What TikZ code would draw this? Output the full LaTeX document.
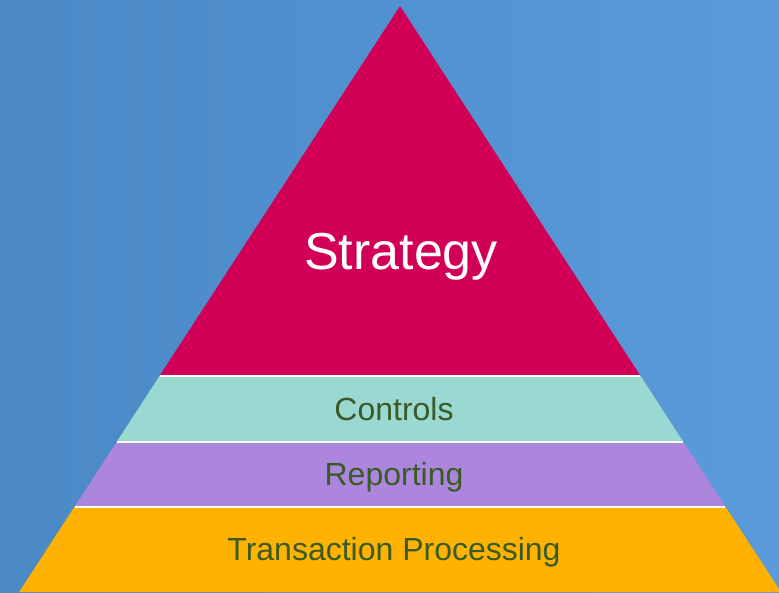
\documentclass[tikz,border=0pt]{standalone}
\usepackage{fontspec}
\setmainfont{Liberation Sans}
\definecolor{bgL}{HTML}{4A88C6}
\definecolor{bgR}{HTML}{5B9BD9}
\definecolor{stratC}{HTML}{D10056}
\definecolor{ctrlC}{HTML}{99D9D1}
\definecolor{repC}{HTML}{AC86DD}
\definecolor{transC}{HTML}{FFB300}
\definecolor{txtC}{HTML}{3A5A26}
\begin{document}
\begin{tikzpicture}[x=1pt,y=-1pt,
  sep/.style={draw=white,line width=2pt},
  lbl/.style={anchor=base,inner sep=0pt,text=txtC,font=\fontsize{32}{36}\selectfont},
  biglbl/.style={anchor=base,inner sep=0pt,text=white,font=\fontsize{52}{58}\selectfont}]
\useasboundingbox (0,0) rectangle (779,592);
\shade[left color=bgL,right color=bgR] (0,0) rectangle (779,592);
\begin{scope}
\clip (0,0) rectangle (779,592);
\fill[stratC] (400,6) -- (639.9,375) -- (160.1,375) -- cycle;
\fill[ctrlC] (160.1,375) -- (639.9,375) -- (682.75,441) -- (117.25,441) -- cycle;
\fill[repC] (117.25,441) -- (682.75,441) -- (725,506) -- (75,506) -- cycle;
\fill[transC] (75,506) -- (725,506) -- (780.9,592) -- (19.1,592) -- cycle;
\draw[sep] (160.1,375.5) -- (639.9,375.5);
\draw[sep] (117.25,441.5) -- (682.75,441.5);
\draw[sep] (75,506.5) -- (725,506.5);
\end{scope}
\node[biglbl] (strategy) at (401,269) {Strategy};
\node[lbl] (controls) at (394,420) {Controls};
\node[lbl] (reporting) at (394,485) {Reporting};
\node[lbl] (transaction) at (394,560) {Transaction Processing};
\end{tikzpicture}
\end{document}
